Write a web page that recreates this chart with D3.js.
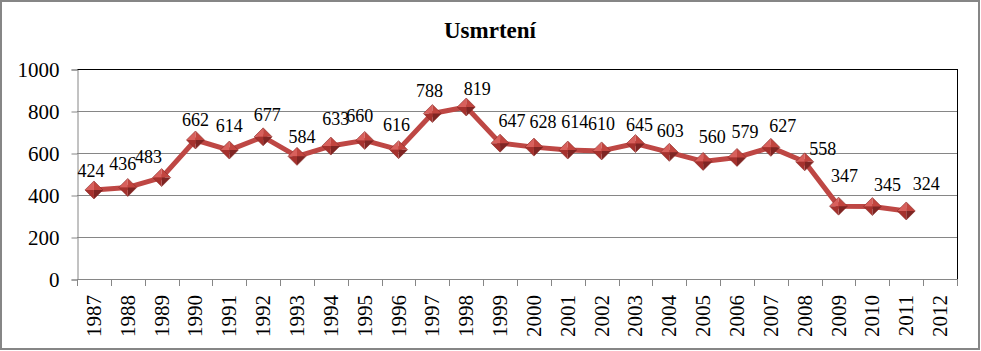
<!DOCTYPE html>
<html>
<head>
<meta charset="utf-8">
<script src="https://cdn.jsdelivr.net/npm/d3@7"></script>
<style>
  html, body { margin: 0; padding: 0; background: #fff; }
  svg { display: block; }
</style>
</head>
<body>
<svg id="chart" width="981" height="351" font-family="Liberation Serif"></svg>
<script>
const title = "Usmrtení";
const years = ["1987","1988","1989","1990","1991","1992","1993","1994","1995","1996","1997","1998","1999","2000","2001","2002","2003","2004","2005","2006","2007","2008","2009","2010","2011","2012"];
const deaths = [424,436,483,662,614,677,584,633,660,616,788,819,647,628,614,610,645,603,560,579,627,558,347,345,324];
const yTicks = [0,200,400,600,800,1000];
// label nudges [dx, dy] relative to each point (as placed in the original)
const labelNudge = [[-3,-13],[-5,-17],[-13,-15],[0,-14],[0,-18],[4,-16],[5,-13],[5,-21],[-5,-18],[-2,-19],[-3,-17],[11,-12],[12,-16],[9,-19],[7,-22],[0,-21],[4,-13],[1,-15],[9,-18],[8,-19],[12,-15],[18,-7],[6,-24],[15,-16],[20,-21]];

const FONT = "Liberation Serif";
const svg = d3.select("#chart");
const m = { left: 77, right: 957, top: 69, bottom: 279 };

svg.append("rect").attr("x", 1).attr("y", 1).attr("width", 978).attr("height", 348)
  .attr("fill", "#fff").attr("stroke", "#868686").attr("stroke-width", 2);

const x = d3.scaleBand().domain(years).range([m.left, m.right]).padding(0);
const y = d3.scaleLinear().domain([0, 1000]).range([m.bottom, m.top]);

// gridlines
svg.append("g").selectAll("line").data(yTicks.filter(t => t > 0 && t < 1000)).join("line")
  .attr("x1", m.left).attr("x2", m.right)
  .attr("y1", d => y(d) + 0.5).attr("y2", d => y(d) + 0.5)
  .attr("stroke", "#868686").attr("stroke-width", 1);

// plot area border top/right
svg.append("line").attr("x1", m.left).attr("x2", m.right + 1).attr("y1", y(1000) + 0.5).attr("y2", y(1000) + 0.5)
  .attr("stroke", "#000").attr("stroke-width", 1);
svg.append("line").attr("x1", m.right + 0.5).attr("x2", m.right + 0.5).attr("y1", y(1000)).attr("y2", m.bottom)
  .attr("stroke", "#000").attr("stroke-width", 1);

// y axis
const yAxis = d3.axisLeft(y).tickValues(yTicks).tickFormat(d3.format("d")).tickSize(6).tickPadding(12);
const gy = svg.append("g").attr("transform", `translate(${m.left + 0.5},0.5)`).call(yAxis)
  .attr("font-family", FONT).attr("font-size", 21);
gy.select(".domain").attr("stroke", "#868686");
gy.selectAll(".tick line").attr("stroke", "#868686");
gy.selectAll(".tick text").attr("font-family", FONT).attr("font-size", 21).attr("fill", "#000").attr("dy", "0.35em");

// x axis: ticks at category boundaries
const gx = svg.append("g").attr("font-family", FONT);
gx.append("line").attr("x1", m.left).attr("x2", m.right + 1).attr("y1", m.bottom + 0.5).attr("y2", m.bottom + 0.5)
  .attr("stroke", "#868686");
const bounds = years.map(d => x(d)).concat([x(years[years.length - 1]) + x.bandwidth()]);
gx.selectAll("line.tk").data(bounds).join("line").attr("class", "tk")
  .attr("x1", d => Math.round(d) + 0.5).attr("x2", d => Math.round(d) + 0.5)
  .attr("y1", m.bottom).attr("y2", m.bottom + 7).attr("stroke", "#868686");
gx.selectAll("text").data(years).join("text")
  .attr("transform", d => `translate(${x(d) + x.bandwidth() / 2},295) rotate(-90)`)
  .attr("text-anchor", "end").attr("dominant-baseline", "central")
  .attr("font-family", FONT).attr("font-size", 21).attr("fill", "#000").text(d => d);

// line
const pts = deaths.map((v, i) => ({ v, i, cx: x(years[i]) + x.bandwidth() / 2, cy: y(v) }));
svg.append("path").datum(pts)
  .attr("d", d3.line().x(d => d.cx).y(d => d.cy))
  .attr("fill", "none").attr("stroke", "#be4744").attr("stroke-width", 5).attr("stroke-linejoin", "round");

// markers: pyramid diamonds
const h = 9;
const facets = [
  { p: [[0,0],[-h,0],[0,-h]], c: "#d8605c" },
  { p: [[0,0],[0,-h],[h,0]], c: "#c2453f" },
  { p: [[0,0],[h,0],[0,h]], c: "#7e2523" },
  { p: [[0,0],[0,h],[-h,0]], c: "#a5312d" }
];
const mk = svg.append("g").selectAll("g").data(pts).join("g")
  .attr("transform", d => `translate(${d.cx},${d.cy})`);
facets.forEach(f => {
  mk.append("path").attr("d", "M" + f.p.map(q => q.join(",")).join("L") + "Z").attr("fill", f.c);
});
mk.append("path").attr("d", `M0,${-h}L${h},0L0,${h}L${-h},0Z`).attr("fill", "none").attr("stroke", "#8a2a27").attr("stroke-width", 0.6);

// data labels
svg.append("g").selectAll("text").data(pts).join("text")
  .attr("x", d => d.cx + labelNudge[d.i][0]).attr("y", d => d.cy + labelNudge[d.i][1])
  .attr("text-anchor", "middle").attr("font-family", FONT).attr("font-size", 18).attr("fill", "#000").text(d => d.v);

// title
svg.append("text").attr("x", 490).attr("y", 38).attr("text-anchor", "middle")
  .attr("font-family", FONT).attr("font-size", 23).attr("font-weight", "bold").attr("fill", "#000").text(title);
</script>
</body>
</html>
